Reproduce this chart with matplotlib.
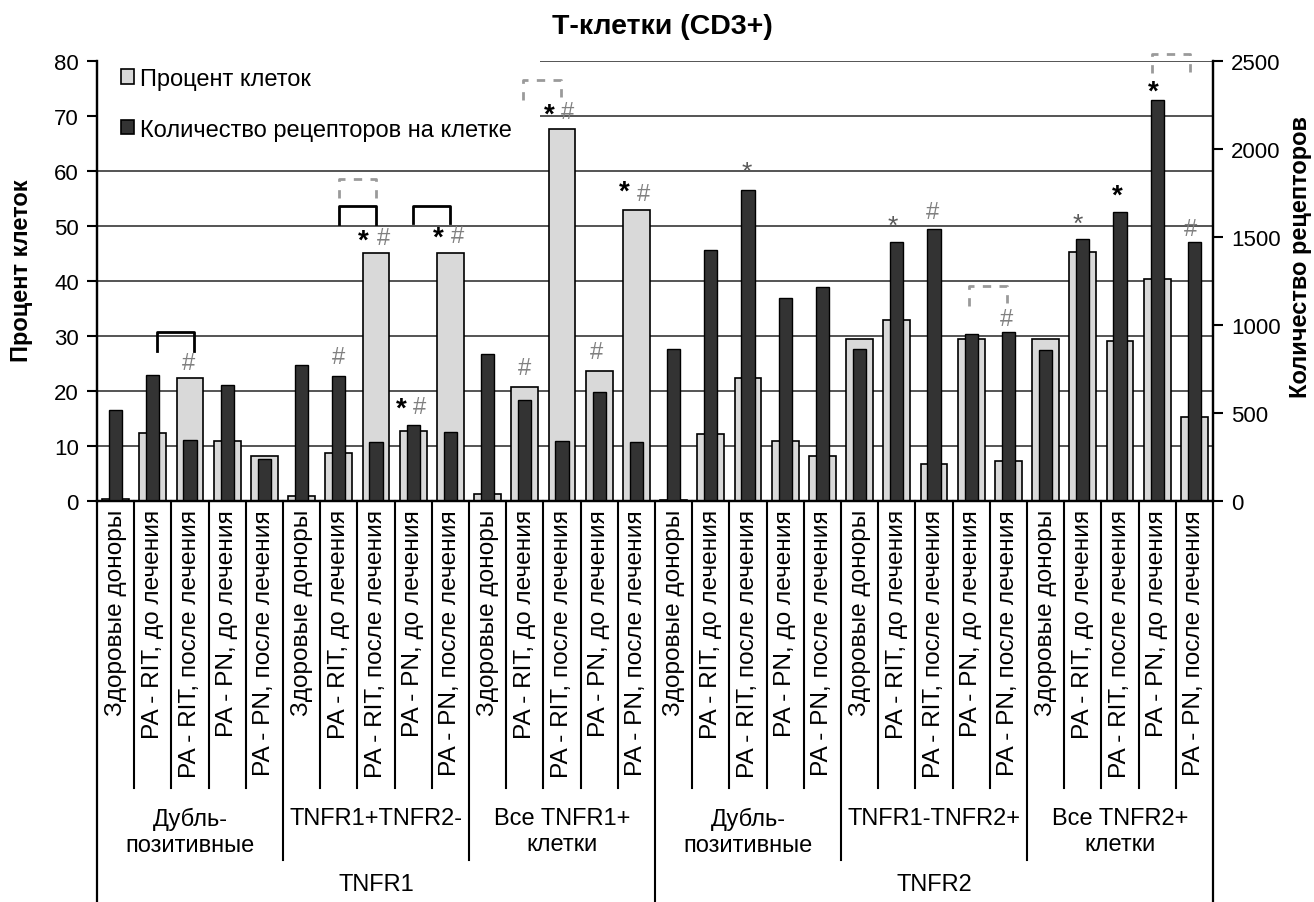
import matplotlib
matplotlib.use("Agg")
import matplotlib.pyplot as plt
import numpy as np

plt.rcParams["font.family"] = ["Liberation Sans", "DejaVu Sans"]
plt.rcParams["font.size"] = 17

# category hierarchy: receptor -> cell population -> patient group
receptors = ["TNFR1", "TNFR2"]
populations = ["Дубль-\nпозитивные", "TNFR1+TNFR2-", "Все TNFR1+\nклетки",
               "Дубль-\nпозитивные", "TNFR1-TNFR2+", "Все TNFR2+\nклетки"]
groups = ["Здоровые доноры", "PA - RIT, до лечения", "PA - RIT, после лечения",
          "PA - PN, до лечения", "PA - PN, после лечения"]

# percent of cells (left axis)
percent_cells = [0.3, 12.4, 22.4, 11.0, 8.2,
                 1.0, 8.7, 45.1, 12.8, 45.1,
                 1.2, 20.8, 67.6, 23.7, 53.0,
                 0.2, 12.2, 22.4, 10.9, 8.2,
                 29.5, 33.0, 6.8, 29.5, 7.2,
                 29.5, 45.3, 29.1, 40.4, 15.3]

# receptors per cell (right axis)
receptor_count = [515, 714, 344, 657, 240,
                  770, 710, 335, 430, 392,
                  837, 576, 341, 619, 335,
                  865, 1424, 1765, 1153, 1216,
                  865, 1472, 1543, 951, 960,
                  856, 1490, 1642, 2276, 1472]

# significance marks: (x position in category units, y in percent units)
star_marks = [(6.65, 47.4), (7.67, 16.8), (8.67, 47.9), (11.65, 70.2),
              (13.67, 56.2), (26.92, 55.5), (27.89, 74.4)]
faint_star_marks = [(16.97, 59.9), (20.9, 50.1), (25.87, 50.4)]
hash_marks = [(1.97, 25.0), (6.0, 26.2), (7.2, 47.9), (8.18, 17.1), (9.18, 48.1),
              (12.16, 70.8), (10.98, 24.1), (12.94, 27.1), (14.18, 55.9),
              (21.97, 52.6), (23.96, 33.1), (28.9, 49.5)]
# brackets: (left x, right x, top y, bottom y)
solid_brackets = [(1.1, 2.1, 30.7, 27.2), (6.0, 7.0, 53.7, 50.4), (8.0, 9.0, 53.7, 50.6)]
dashed_brackets = [(6.0, 7.0, 58.6, 55.1), (10.95, 11.97, 76.5, 73.0),
                   (22.94, 23.96, 39.1, 35.5), (27.86, 28.88, 81.3, 77.9)]

n = len(percent_cells)
x = np.arange(n)

fig = plt.figure(figsize=(13.14, 9.03), dpi=100)
ax = fig.add_axes([97 / 1314, 1 - 502 / 903, 1116 / 1314, 440 / 903])
ax2 = ax.twinx()

for v in range(10, 90, 10):
    ax.axhline(v, color="#262626", lw=1.1, zorder=0.5)
# legend area covers the upper gridlines on the left
ax.fill_between([-0.6, 11.4], 62.5, 81, color="white", zorder=0.8, lw=0)

ax.bar(x, percent_cells, width=0.72, color="#d9d9d9", edgecolor="black", lw=1.2, zorder=2)
ax2.bar(x, receptor_count, width=0.35, color="#333333", edgecolor="black", lw=1.0, zorder=2)

ax.set_xlim(-0.5, n - 0.5)
ax.set_ylim(0, 80)
ax2.set_ylim(0, 2500)
ax.set_yticks(range(0, 90, 10))
ax2.set_yticks(range(0, 2600, 500))
ax.set_xticks([])
for a in (ax, ax2):
    a.tick_params(axis="y", length=7, width=1.5, labelsize=16, pad=6)
    a.spines["top"].set_visible(False)
    for s in ("left", "right", "bottom"):
        a.spines[s].set_linewidth(1.6)

for sx, sy in star_marks:
    ax.text(sx, sy, "*", ha="center", va="center", fontsize=20, fontweight="bold",
            color="black", zorder=4)
for sx, sy in faint_star_marks:
    ax.text(sx, sy, "*", ha="center", va="center", fontsize=19,
            color="#5a5a5a", zorder=4)
for hx, hy in hash_marks:
    ax.text(hx, hy, "#", ha="center", va="center", fontsize=17,
            color="#808080", zorder=4)


def bracket(x0, x1, top, bottom, **kw):
    ax.plot([x0, x0, x1, x1], [bottom, top, top, bottom], clip_on=False, zorder=4, **kw)


for b in solid_brackets:
    bracket(*b, color="black", lw=2.0)
for b in dashed_brackets:
    bracket(*b, color="#9a9a9a", lw=2.0, ls=(0, (3, 3)))

# multi-level category axis below the plot
tr = ax.get_xaxis_transform()
px = 440.0  # axes height in pixels


def yfrac(p):
    return (502 - p) / px


for i in range(n):
    ax.text(i, yfrac(510), groups[i % 5], rotation=90, ha="center", va="top",
            fontsize=17.6, transform=tr)
for i in range(1, n):
    if i % 15 == 0:
        bottom = yfrac(903)
    elif i % 5 == 0:
        bottom = yfrac(861)
    else:
        bottom = yfrac(789)
    ax.plot([i - 0.5, i - 0.5], [0, bottom], color="black", lw=1.5,
            transform=tr, clip_on=False)
for edge in (-0.5, n - 0.5):
    ax.plot([edge, edge], [0, yfrac(903)], color="black", lw=1.6,
            transform=tr, clip_on=False)
for j, name in enumerate(populations):
    ax.text(j * 5 + 2, yfrac(808), name, ha="center", va="top", fontsize=17,
            transform=tr, linespacing=1.25)
for k, name in enumerate(receptors):
    ax.text(k * 15 + 7, yfrac(885), name, ha="center", va="center", fontsize=17,
            transform=tr)

fig.text(662 / 1314, 1 - 27 / 903, "Т-клетки (CD3+)", ha="center", va="center",
         fontsize=20.5, fontweight="bold")
fig.text(22 / 1314, 1 - 271 / 903, "Процент клеток", rotation=90, ha="center",
         va="center", fontsize=17, fontweight="bold")
fig.text(1301 / 1314, 1 - 257 / 903, "Количество рецепторов", rotation=90,
         ha="center", va="center", fontsize=17, fontweight="bold")

h1 = plt.Rectangle((0, 0), 1, 1, fc="#d9d9d9", ec="black", lw=1.2)
h2 = plt.Rectangle((0, 0), 1, 1, fc="#333333", ec="black", lw=1.2)
fig.legend([h1, h2], ["Процент клеток", "Количество рецепторов на клетке"],
           loc="upper left", bbox_to_anchor=(109 / 1314, 1 - 57 / 903),
           frameon=False, handlelength=0.55, handleheight=0.55,
           handletextpad=0.25, labelspacing=1.22, borderpad=0, fontsize=17)

fig.savefig("out.png", dpi=100)
